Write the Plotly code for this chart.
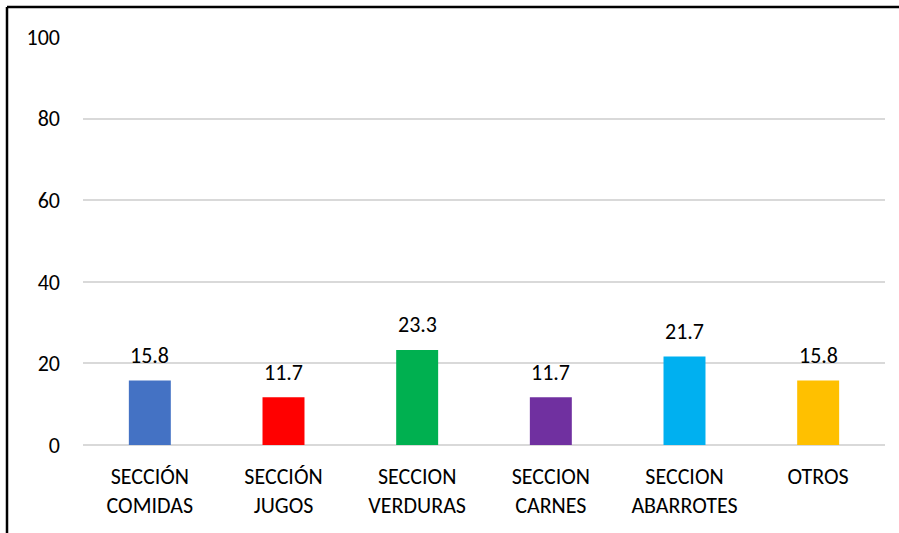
import plotly.graph_objects as go

categories = ["SECCIÓN<br>COMIDAS", "SECCIÓN<br>JUGOS", "SECCION<br>VERDURAS",
              "SECCION<br>CARNES", "SECCION<br>ABARROTES", "OTROS"]
values = [15.8, 11.7, 23.3, 11.7, 21.7, 15.8]
colors = ["#4472C4", "#FF0000", "#00B050", "#7030A0", "#00B0F0", "#FFC000"]
y_ticks = [0, 20, 40, 60, 80, 100]

FONT = "Carlito, Lato, sans-serif"

fig = go.Figure(go.Bar(
    x=categories, y=values, marker_color=colors, marker_line_width=0,
    hoverinfo="x+y",
))

for c, v in zip(categories, values):
    fig.add_annotation(x=c, y=v, text=f"{v:.1f}", showarrow=False,
                       yanchor="middle", yshift=25,
                       font=dict(family=FONT, size=22, color="#000000"))

L, R, T, B = 83, 14, 37, 88
W, H = 899, 533
pw, ph = W - L - R, H - T - B

def px(x):
    return (x - L) / pw

def py(y):
    return (H - B - y) / ph

fig.update_layout(
    width=W, height=H,
    margin=dict(l=L, r=R, t=T, b=B, autoexpand=False),
    paper_bgcolor="white", plot_bgcolor="white",
    bargap=0.686, showlegend=False,
    font=dict(family=FONT, size=22, color="#000000"),
    xaxis=dict(showgrid=False, showline=False, ticks="", tickfont=dict(size=22),
               ticklabelstandoff=16),
    yaxis=dict(range=[0, 100], tickvals=y_ticks, showgrid=True, gridcolor="#D9D9D9",
               gridwidth=1.5, zeroline=True, zerolinecolor="#D9D9D9", zerolinewidth=1.5,
               showline=False, ticks="", tickfont=dict(size=22), ticklabelstandoff=22),
    shapes=[
        dict(type="line", xref="paper", yref="paper", x0=px(7), x1=px(7),
             y0=py(7), y1=py(H), line=dict(color="black", width=2.5)),
        dict(type="line", xref="paper", yref="paper", x0=px(7), x1=px(W),
             y0=py(7), y1=py(7), line=dict(color="black", width=2.5)),
    ],
)

fig.write_html("out.html", config={"displayModeBar": False},
               post_script="document.body.style.margin='0';")
